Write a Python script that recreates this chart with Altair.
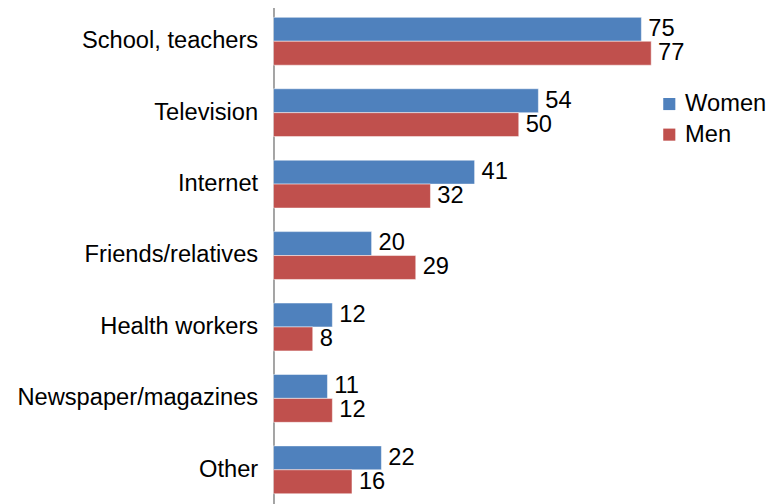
import altair as alt
import pandas as pd

categories = ["School, teachers", "Television", "Internet", "Friends/relatives",
              "Health workers", "Newspaper/magazines", "Other"]
women = [75, 54, 41, 20, 12, 11, 22]
men = [77, 50, 32, 29, 8, 12, 16]
series = ["Women", "Men"]
colors = ["#4F81BD", "#C0504D"]

rows = []
for c, w, m in zip(categories, women, men):
    rows.append({"category": c, "gender": "Women", "value": w})
    rows.append({"category": c, "gender": "Men", "value": m})
df = pd.DataFrame(rows)

FONT = "Liberation Sans"
FS = 24

y = alt.Y("category:N", sort=categories,
          scale=alt.Scale(paddingInner=0.33, paddingOuter=0.168, round=False),
          axis=alt.Axis(title=None, ticks=False, labelPadding=16, labelFontSize=FS,
                        labelColor="#000000", labelFont=FONT, minExtent=269,
                        domainColor="#868686", domainWidth=1.5, labelLimit=400))
yoff = alt.YOffset("gender:N", sort=series,
                   scale=alt.Scale(paddingInner=0, paddingOuter=0, round=False))
x = alt.X("value:Q", scale=alt.Scale(domain=[0, 99], nice=False), axis=None)

bars = alt.Chart(df).mark_bar(stroke="white", strokeWidth=0.5).encode(
    x=x, y=y, yOffset=yoff,
    color=alt.Color("gender:N", sort=series,
                    scale=alt.Scale(domain=series, range=colors),
                    legend=alt.Legend(title=None, orient="none", legendX=389, legendY=88,
                                      symbolType="square", symbolSize=150,
                                      symbolStrokeWidth=0, labelFontSize=FS,
                                      labelFont=FONT, labelColor="#000000",
                                      rowPadding=7, labelOffset=4))
)

labels = alt.Chart(df).mark_text(align="left", baseline="middle", dx=7, fontSize=FS,
                                 font=FONT, color="#000000").encode(
    x=x, y=y, yOffset=yoff, text="value:Q"
)

chart = (bars + labels).properties(
    width=492, height=507,
    padding={"left": 0, "top": -6, "right": 0, "bottom": 0}
).configure_view(strokeWidth=0).configure_axis(grid=False)

chart.save("out.html", embed_options={"renderer": "svg", "actions": False})
